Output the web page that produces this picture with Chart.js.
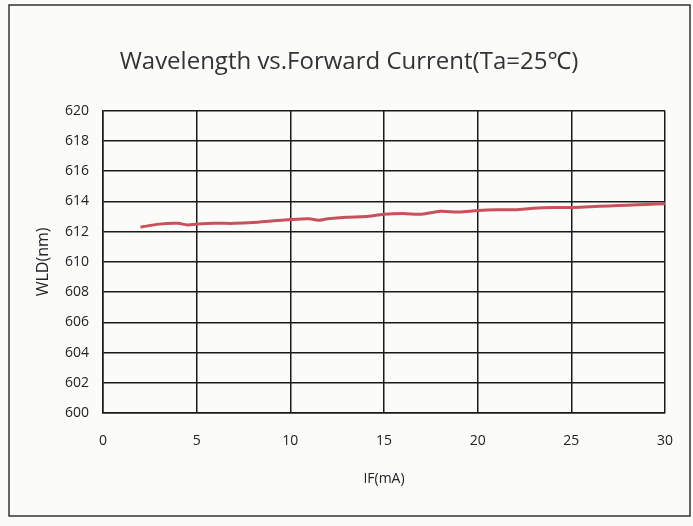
<!DOCTYPE html>
<html>
<head>
<meta charset="utf-8">
<script src="https://cdn.jsdelivr.net/npm/chart.js@4/dist/chart.umd.min.js"></script>
<style>
  html, body { margin: 0; padding: 0; background: #fbfbfa; }
  #wrap { width: 693px; height: 526px; }
</style>
</head>
<body>
<div id="wrap"><canvas id="chart" width="693" height="526"></canvas></div>
<script>
// IF (mA) and dominant wavelength (nm)
const currentMA = [2, 3, 4, 4.5, 5, 6, 7, 8, 9, 10, 11, 11.5, 12, 13, 14, 15, 16, 17, 18, 19, 20, 21, 22, 23, 24, 25, 26, 27, 28, 29, 30];
const wavelengthNm = [612.3, 612.5, 612.55, 612.45, 612.5, 612.55, 612.55, 612.6, 612.7, 612.8, 612.85, 612.75, 612.85, 612.95, 613.0, 613.15, 613.2, 613.15, 613.35, 613.3, 613.4, 613.45, 613.45, 613.55, 613.6, 613.6, 613.65, 613.7, 613.75, 613.8, 613.85];

const xRange = [0, 30];
const yRange = [600, 620];

const font = "'Open Sans', 'Noto Sans', sans-serif";
const ink = '#222';

// thin frame around the whole figure, like the printed sheet
const framePlugin = {
  id: 'frame',
  afterDraw(chart) {
    const c = chart.ctx;
    c.save();
    c.strokeStyle = '#333';
    c.lineWidth = 1.5;
    c.strokeRect(9, 5, 681, 511);
    c.restore();
  }
};

new Chart(document.getElementById('chart'), {
  type: 'line',
  data: {
    datasets: [{
      label: 'WLD',
      data: currentMA.map((x, i) => ({ x: x, y: wavelengthNm[i] })),
      borderColor: 'rgb(200, 82, 92)',
      borderWidth: 3,
      pointRadius: 0,
      tension: 0.3,
      fill: false
    }]
  },
  plugins: [framePlugin],
  options: {
    responsive: false,
    animation: false,
    layout: { padding: { left: 30, right: 25, top: 48, bottom: 35 } },
    plugins: {
      legend: { display: false },
      tooltip: { enabled: false },
      title: {
        display: true,
        text: 'Wavelength vs.Forward Current(Ta=25\u2103)',
        color: '#333',
        font: { family: font, size: 24, weight: 'normal' },
        padding: { top: 0, bottom: 34 }
      }
    },
    scales: {
      x: {
        type: 'linear',
        min: xRange[0],
        max: xRange[1],
        afterFit: s => { s.height = 78; },
        ticks: {
          stepSize: 5,
          color: ink,
          padding: 20,
          font: { family: font, size: 14 }
        },
        grid: { color: '#1a1a1a', lineWidth: 1.5, drawTicks: false },
        border: { color: '#1a1a1a', width: 1.5 },
        title: {
          display: true,
          text: 'IF(mA)',
          color: ink,
          font: { family: font, size: 14 },
          padding: { top: 12 }
        }
      },
      y: {
        min: yRange[0],
        max: yRange[1],
        afterFit: s => { s.width = 73; },
        ticks: {
          stepSize: 2,
          color: ink,
          padding: 14,
          font: { family: font, size: 14 }
        },
        grid: { color: '#1a1a1a', lineWidth: 1.5, drawTicks: false },
        border: { color: '#1a1a1a', width: 1.5 },
        title: {
          display: true,
          text: 'WLD(nm)',
          color: ink,
          font: { family: font, size: 16 },
          padding: { bottom: 2 }
        }
      }
    }
  }
});
</script>
</body>
</html>
